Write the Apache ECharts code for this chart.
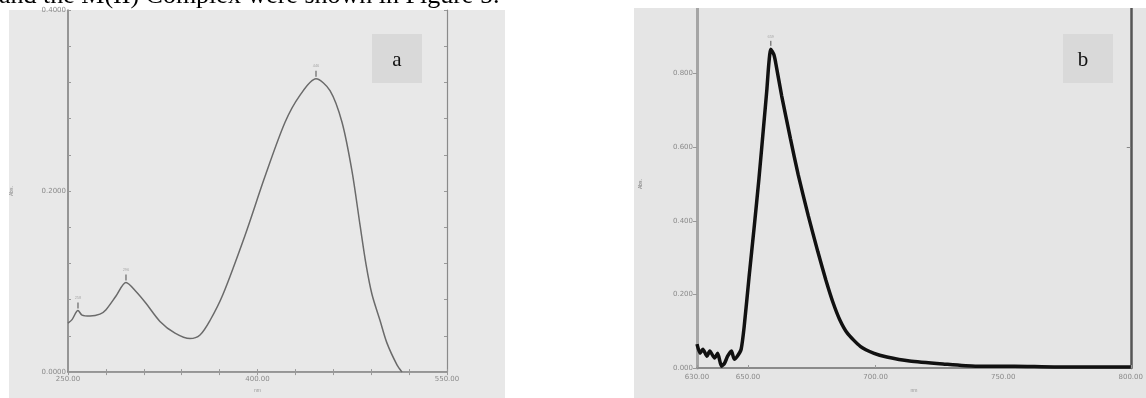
<!DOCTYPE html>
<html>
<head>
<meta charset="utf-8">
<script src="https://cdn.jsdelivr.net/npm/echarts@6/dist/echarts.min.js"></script>
<style>
  html, body { margin: 0; padding: 0; background: #fff; }
  #chart { width: 1146px; height: 398px; }
</style>
</head>
<body>
<div id="chart"></div>
<script>
// 顶部被截断的正文
const topText = 'and the M(II) Complex were shown in Figure 5.';

// 图 a: 紫外-可见吸收光谱
const aWavelength = [250.0, 253.2, 257.9, 261.1, 267.4, 275.3, 280.1, 288.0, 295.9, 303.8, 311.7, 322.8,
  334.7, 346.6, 354.5, 362.4, 372.7, 390.1, 405.9, 421.8, 433.7, 446.3, 457.4, 466.9, 474.8, 481.2,
  485.9, 490.6, 497.0, 502.5, 510.4, 514.4];
const aAbs = [0.054, 0.058, 0.068, 0.063, 0.062, 0.064, 0.069, 0.084, 0.099, 0.089, 0.076, 0.056,
  0.043, 0.037, 0.041, 0.057, 0.086, 0.151, 0.216, 0.276, 0.306, 0.324, 0.311, 0.276, 0.222, 0.162,
  0.119, 0.086, 0.057, 0.032, 0.008, 0.000];
const aPeakNm = [257.9, 295.9, 446.3];
const aPeakAbs = [0.068, 0.099, 0.324];
const aXLabels = [250, 400, 550];
const aXTicks = [250, 280, 310, 340, 370, 400, 430, 460, 490, 520, 550];
const aYLabels = [0, 0.2, 0.4];
const aYTicks = [0, 0.04, 0.08, 0.12, 0.16, 0.2, 0.24, 0.28, 0.32, 0.36, 0.4];

// 图 b: 发射光谱
const bWavelength = [630.0, 631.2, 632.3, 633.9, 635.0, 636.9, 638.1, 639.6, 640.8, 642.0, 643.5, 644.6,
  645.8, 647.3, 648.5, 650.4, 652.4, 654.3, 656.2, 657.4, 658.1, 658.9, 660.1, 660.8, 663.2, 666.6,
  669.7, 673.6, 677.4, 680.5, 683.2, 685.9, 689.0, 694.0, 699.4, 704.4, 713.3, 726.4, 739.1, 754.5,
  770.0, 785.4, 800.0];
const bAbs = [0.065, 0.040, 0.051, 0.032, 0.046, 0.027, 0.040, 0.005, 0.013, 0.032, 0.046, 0.024,
  0.032, 0.051, 0.113, 0.247, 0.382, 0.516, 0.664, 0.758, 0.823, 0.866, 0.852, 0.831, 0.739, 0.624,
  0.524, 0.414, 0.315, 0.239, 0.180, 0.132, 0.094, 0.059, 0.040, 0.030, 0.019, 0.011, 0.005, 0.005,
  0.003, 0.003, 0.003];
const bPeakNm = [658.9];
const bPeakAbs = [0.866];
const bXLabels = [630, 650, 700, 750, 800];
const bYLabels = [0, 0.2, 0.4, 0.6, 0.8];

const zip = (xs, ys) => xs.map((x, i) => [x, ys[i]]);

const tickLabel = { fontSize: 7, color: '#8a8a8a', fontFamily: 'DejaVu Sans' };

const chart = echarts.init(document.getElementById('chart'));

chart.setOption({
  animation: false,
  backgroundColor: '#fff',
  grid: [
    { left: 68, top: 10, width: 379, height: 370 },
    { left: 697, top: 0, width: 442, height: 372 },
  ],
  xAxis: [
    {
      gridIndex: 0, type: 'value', min: 250, max: 550,
      name: 'nm', nameLocation: 'middle', nameGap: 13,
      nameTextStyle: { fontSize: 5, color: '#999' },
      axisLine: { lineStyle: { color: '#7a7a7a', width: 1.5 } },
      axisTick: { inside: true, length: 3, customValues: aXTicks, lineStyle: { color: '#999' } },
      axisLabel: { ...tickLabel, margin: 4, customValues: aXLabels, formatter: v => v.toFixed(2) },
      splitLine: { show: false },
    },
    {
      gridIndex: 0, type: 'value', min: 250, max: 550, position: 'top',
      axisLine: { lineStyle: { color: '#9a9a9a', width: 1 } },
      axisTick: { inside: true, length: 3, customValues: aXTicks, lineStyle: { color: '#999' } },
      axisLabel: { show: false },
      splitLine: { show: false },
    },
    {
      gridIndex: 1, type: 'value', min: 630, max: 800,
      name: 'nm', nameLocation: 'middle', nameGap: 20,
      nameTextStyle: { fontSize: 5, color: '#999' },
      axisLine: { lineStyle: { color: '#8a8a8a', width: 2 } },
      axisTick: { inside: true, length: 3, customValues: bXLabels, lineStyle: { color: '#999' } },
      axisLabel: { ...tickLabel, margin: 6, customValues: bXLabels, formatter: v => v.toFixed(2) },
      splitLine: { show: false },
    },
  ],
  yAxis: [
    {
      gridIndex: 0, type: 'value', min: 0, max: 0.4,
      name: 'Abs.', nameLocation: 'middle', nameGap: 54, nameRotate: 90,
      nameTextStyle: { fontSize: 5, color: '#888' },
      axisLine: { lineStyle: { color: '#7a7a7a', width: 1.5 } },
      axisTick: { inside: true, length: 3, customValues: aYTicks, lineStyle: { color: '#999' } },
      axisLabel: { ...tickLabel, margin: 2, customValues: aYLabels, formatter: v => v.toFixed(4) },
      splitLine: { show: false },
    },
    {
      gridIndex: 0, type: 'value', min: 0, max: 0.4, position: 'right',
      axisLine: { lineStyle: { color: '#8a8a8a', width: 1.2 } },
      axisTick: { inside: true, length: 3, customValues: aYTicks, lineStyle: { color: '#999' } },
      axisLabel: { show: false },
      splitLine: { show: false },
    },
    {
      gridIndex: 1, type: 'value', min: 0, max: 1.0,
      name: 'Abs.', nameLocation: 'middle', nameGap: 54, nameRotate: 90,
      nameTextStyle: { fontSize: 5, color: '#777' },
      axisLine: { lineStyle: { color: '#a5a5a5', width: 3 } },
      axisTick: { inside: false, length: 4, customValues: bYLabels, lineStyle: { color: '#999' } },
      axisLabel: { ...tickLabel, margin: 4, customValues: bYLabels, formatter: v => v.toFixed(3) },
      splitLine: { show: false },
    },
    {
      gridIndex: 1, type: 'value', min: 0, max: 1.0, position: 'right',
      axisLine: { lineStyle: { color: '#555', width: 2.5 } },
      axisTick: { inside: true, length: 4, customValues: [0.6], lineStyle: { color: '#888' } },
      axisLabel: { show: false },
      splitLine: { show: false },
    },
  ],
  series: [
    {
      type: 'line', xAxisIndex: 0, yAxisIndex: 0,
      data: zip(aWavelength, aAbs), smooth: 0.3, symbol: 'none',
      lineStyle: { color: '#6a6a6a', width: 1.5 },
    },
    {
      type: 'scatter', xAxisIndex: 0, yAxisIndex: 0,
      data: zip(aPeakNm, aPeakAbs),
      symbol: 'rect', symbolSize: [1.5, 6], symbolOffset: [0, -5],
      itemStyle: { color: '#666' },
      label: { show: true, position: 'top', distance: 3, fontSize: 4, color: '#999', formatter: p => p.value[0].toFixed(0) },
    },
    {
      type: 'line', xAxisIndex: 2, yAxisIndex: 2,
      data: zip(bWavelength, bAbs), smooth: 0.2, symbol: 'none',
      lineStyle: { color: '#111', width: 3.5 },
    },
    {
      type: 'scatter', xAxisIndex: 2, yAxisIndex: 2,
      data: zip(bPeakNm, bPeakAbs),
      symbol: 'rect', symbolSize: [1.5, 5], symbolOffset: [0, -6],
      itemStyle: { color: '#666' },
      label: { show: true, position: 'top', distance: 2, fontSize: 4, color: '#999', formatter: p => p.value[0].toFixed(0) },
    },
  ],
  graphic: [
    { type: 'rect', z: -10, shape: { x: 9, y: 10, width: 496, height: 388 }, style: { fill: '#e8e8e8' } },
    { type: 'rect', z: -10, shape: { x: 634, y: 8, width: 512, height: 390 }, style: { fill: '#e5e5e5' } },
    { type: 'rect', z: 50, shape: { x: 634, y: 0, width: 512, height: 8 }, style: { fill: '#fff' } },
    { type: 'rect', z: 50, shape: { x: 372, y: 34, width: 50, height: 49 }, style: { fill: '#d9d9d9' } },
    { type: 'rect', z: 50, shape: { x: 1063, y: 34, width: 50, height: 49 }, style: { fill: '#d9d9d9' } },
    {
      type: 'text', z: 60, x: 397, y: 60,
      style: { text: 'a', fontSize: 21, fontFamily: 'Liberation Serif', fill: '#111', align: 'center', verticalAlign: 'middle' },
    },
    {
      type: 'text', z: 60, x: 1083, y: 60,
      style: { text: 'b', fontSize: 21, fontFamily: 'Liberation Serif', fill: '#111', align: 'center', verticalAlign: 'middle' },
    },
    {
      type: 'text', z: 60, x: -1, y: -3.8,
      style: { text: topText, fontSize: 26, fontFamily: 'Liberation Serif', fill: '#000', align: 'left', verticalAlign: 'middle' },
    },
  ],
});
</script>
</body>
</html>
